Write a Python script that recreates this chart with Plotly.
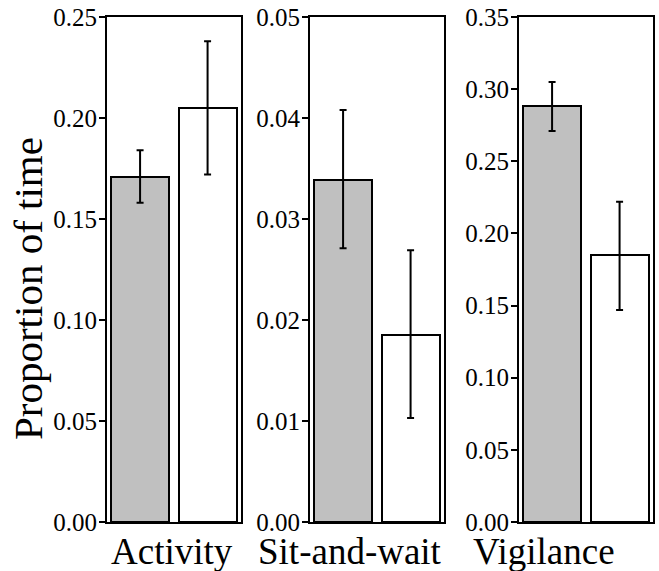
import plotly.graph_objects as go

W, H = 659, 571

# ---- data ----
categories = ["Activity", "Sit-and-wait", "Vigilance"]
gray_mean = [0.171, 0.0339, 0.288]
gray_upper = [0.184, 0.0408, 0.305]
gray_lower = [0.158, 0.0271, 0.271]
white_mean = [0.205, 0.0185, 0.185]
white_upper = [0.238, 0.0269, 0.222]
white_lower = [0.172, 0.0103, 0.147]
y_max = [0.25, 0.05, 0.35]
y_step = [0.05, 0.01, 0.05]
y_title = "Proportion of time"

# ---- layout (pixels) ----
panel_left = [107, 310, 519]
panel_width = 134
plot_top, plot_bottom = 17, 522
label_x = [172, 350, 544]
label_y = 551

FONT = "Liberation Serif, Times New Roman, serif"

fig = go.Figure()
layout = dict(
    width=W, height=H, margin=dict(l=0, r=0, t=0, b=0, autoexpand=False),
    paper_bgcolor="white", plot_bgcolor="white", showlegend=False,
    bargap=0, font=dict(family=FONT, color="black"),
)
annotations = []
for i, cat in enumerate(categories):
    ax = "" if i == 0 else str(i + 1)
    xref = "x" + ax
    yref = "y" + ax
    means = [gray_mean[i], white_mean[i]]
    ups = [gray_upper[i] - gray_mean[i], white_upper[i] - white_mean[i]]
    los = [gray_mean[i] - gray_lower[i], white_mean[i] - white_lower[i]]
    fig.add_trace(go.Bar(
        x=[0, 1], y=means, width=0.86,
        marker=dict(color=["#c0c0c0", "white"], line=dict(color="black", width=2)),
        error_y=dict(type="data", array=ups, arrayminus=los, symmetric=False,
                     color="black", thickness=2, width=3.5),
        xaxis=xref, yaxis=yref, hoverinfo="skip",
    ))
    x0 = panel_left[i] / W
    x1 = (panel_left[i] + panel_width) / W
    n = int(round(y_max[i] / y_step[i]))
    tickvals = [k * y_step[i] for k in range(n + 1)]
    layout["xaxis" + ax] = dict(
        domain=[x0, x1], range=[-0.49, 1.495], showticklabels=False,
        showgrid=False, zeroline=False, showline=True, linecolor="black",
        linewidth=2, mirror=True, ticks="", anchor=yref, fixedrange=True,
        automargin=False,
    )
    layout["yaxis" + ax] = dict(
        domain=[1 - plot_bottom / H, 1 - plot_top / H], range=[0, y_max[i]],
        tickvals=tickvals, tickformat=".2f", ticks="outside", ticklen=6,
        tickwidth=2, tickcolor="black", showgrid=False, zeroline=False,
        showline=True, linecolor="black", linewidth=2, mirror=True,
        anchor=xref, tickfont=dict(family=FONT, size=25, color="black"),
        ticklabelstandoff=-3, fixedrange=True, automargin=False,
    )
    annotations.append(dict(
        text=cat, x=label_x[i] / W, y=1 - label_y / H, xref="paper", yref="paper",
        showarrow=False, xanchor="center", yanchor="middle",
        font=dict(family=FONT, size=37, color="black"),
    ))

annotations.append(dict(
    text=y_title, x=28 / W, y=1 - 289 / H, xref="paper", yref="paper",
    showarrow=False, textangle=-90, xanchor="center", yanchor="middle",
    font=dict(family=FONT, size=41, color="black"),
))
layout["annotations"] = annotations
fig.update_layout(**layout)
fig.write_html("out.html", config={"displayModeBar": False},
               post_script="document.body.style.margin='0';")
